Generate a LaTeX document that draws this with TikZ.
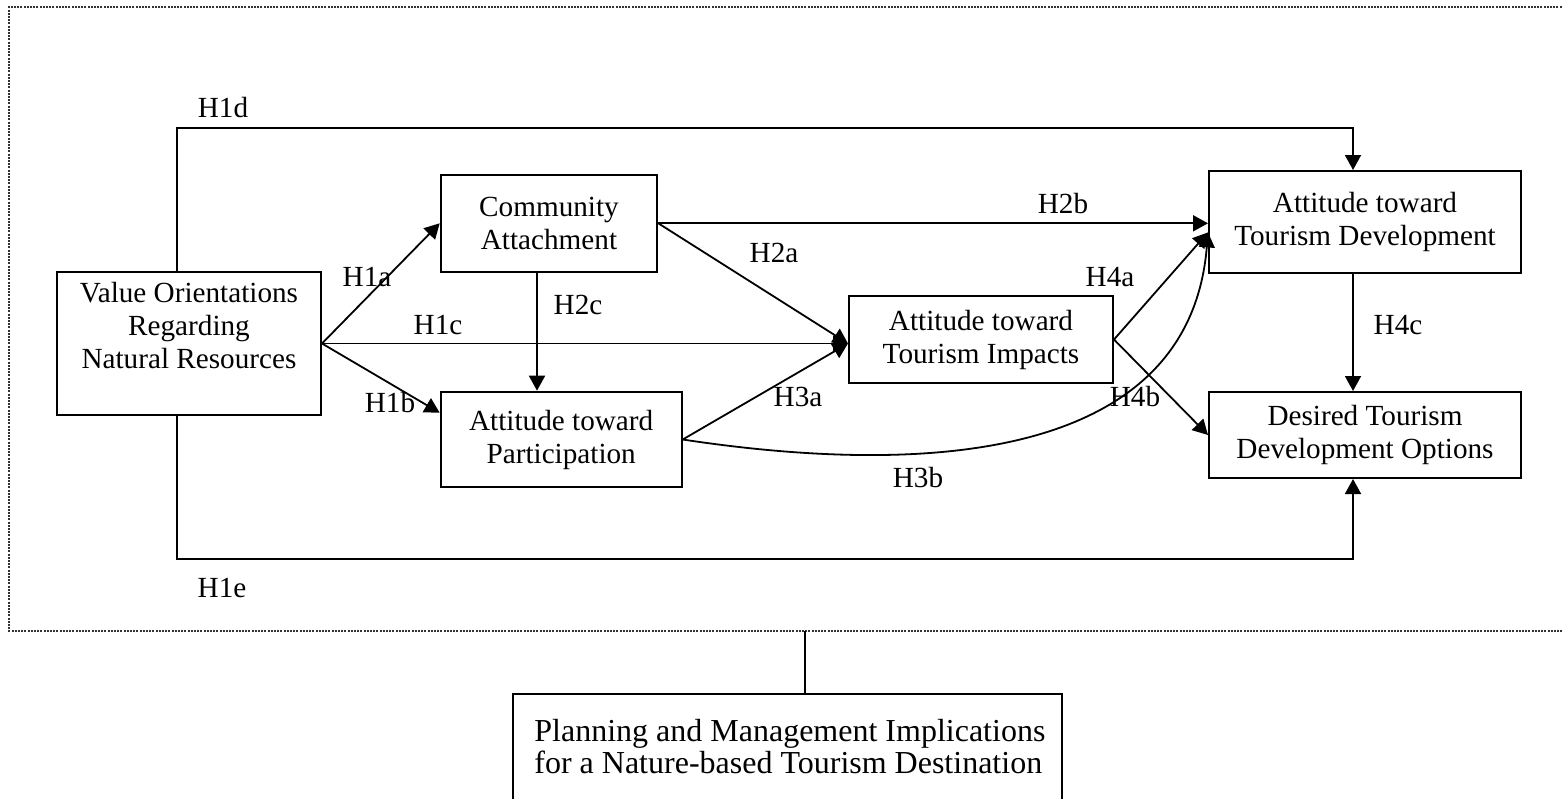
\documentclass[tikz,border=0pt]{standalone}
\usepackage{fontspec}
\setmainfont{Liberation Serif}
\usetikzlibrary{arrows.meta,calc}

\begin{document}
\begin{tikzpicture}[x=0.5pt,y=-0.5pt,
  box/.style={draw, line width=1pt, inner sep=0pt, align=center,
              font=\fontsize{14.6}{16.5}\selectfont},
  txt/.style={inner sep=0pt, align=center, font=\fontsize{14.6}{16.5}\selectfont},
  lbl/.style={inner sep=0pt, font=\fontsize{14.6}{16.5}\selectfont},
  arr/.style={line width=0.9pt, -{Triangle[length=7.5pt,width=8pt]}},
  link/.style={line width=0.9pt},
  frame/.style={line width=0.7pt, dash pattern=on 1pt off 0.6pt, black!80}]

\useasboundingbox (0,0) rectangle (1562,798);
\clip (0,0) rectangle (1562,798);

% dotted frame around the model
\draw[frame] (1600,7) -- (9,7) -- (9,631) -- (1600,631);

% constructs
\node[box, minimum width=132pt, minimum height=71.5pt] (val) at (189,343.5) {};
\node[txt, anchor=north] (valtxt) at (189,282) {Value Orientations\\Regarding\\Natural Resources};
\node[box, minimum width=108.3pt, minimum height=48.3pt] (comm) at (549,223.3) {Community\\Attachment};
\node[box, minimum width=120.5pt, minimum height=47.8pt] (part) at (561.2,439.5) {Attitude toward\\Participation};
\node[box, minimum width=132pt, minimum height=43.5pt] (imp) at (981,339.5) {Attitude toward\\Tourism Impacts};
\node[box, minimum width=156pt, minimum height=51pt] (dev) at (1365,222) {Attitude toward\\Tourism Development};
\node[box, minimum width=156pt, minimum height=43pt] (des) at (1365,435) {Desired Tourism\\Development Options};
\node[box, minimum width=274.5pt, minimum height=80pt] (plan) at (787.5,774) {};
\node[inner sep=0pt, anchor=north west, align=left,
      font=\fontsize{16}{16}\selectfont] (plantxt) at (534,719)
  {Planning and Management Implications\\for a Nature-based Tourism Destination};

% anchor points for the paths
\coordinate (impin) at (val.east -| imp.west);
\coordinate (devin) at ($(dev.north west)!0.6!(dev.south west)$);
\coordinate (d1) at (177,128);
\coordinate (e1) at (177,559);
\coordinate (devtop) at ($(dev.north)+(-12,0)$);
\coordinate (devbot) at ($(dev.south)+(-12,0)$);
\coordinate (destop) at ($(des.north)+(-12,0)$);
\coordinate (desbot) at ($(des.south)+(-12,0)$);
\coordinate (c2c) at ($(comm.south)+(-12,0)$);
\coordinate (partin) at ($(part.north west)!0.226!(part.south west)$);
\coordinate (fb) at (805,631);

% hypothesised paths
\draw[arr] (val.east) -- (comm.west);
\draw[arr] (val.east) -- (impin);
\draw[arr] (val.east) -- (partin);
\draw[arr] (val.north -| d1) -- (d1) -| (devtop);
\draw[arr] (val.south -| e1) -- (e1) -| (desbot);
\draw[arr] (c2c) -- (c2c |- part.north);
\draw[arr] (comm.east) -- (impin);
\draw[arr] (comm.east) -- (comm.east -| dev.west);
\draw[arr] (part.east) -- (impin);
\draw[arr] (part.east) .. controls (950,480) and (1190,450) .. (devin);
\draw[arr] (imp.east) -- (devin);
\draw[arr] (imp.east) -- (des.west);
\draw[arr] (devbot) -- (destop);
\draw[link] (fb) -- (fb |- plan.north);

% path labels
\node[lbl] (l1d) at (223,108) {H1d};
\node[lbl] (l1e) at (222,588) {H1e};
\node[lbl] (l1a) at (367,277) {H1a};
\node[lbl] (l1c) at (438,325) {H1c};
\node[lbl] (l1b) at (390,403) {H1b};
\node[lbl] (l2c) at (578,305) {H2c};
\node[lbl] (l2a) at (774,253) {H2a};
\node[lbl] (l2b) at (1063,204) {H2b};
\node[lbl] (l4a) at (1110,277) {H4a};
\node[lbl] (l3a) at (798,397) {H3a};
\node[lbl] (l4b) at (1135,397) {H4b};
\node[lbl] (l3b) at (918,478) {H3b};
\node[lbl] (l4c) at (1398,325) {H4c};
\end{tikzpicture}
\end{document}
